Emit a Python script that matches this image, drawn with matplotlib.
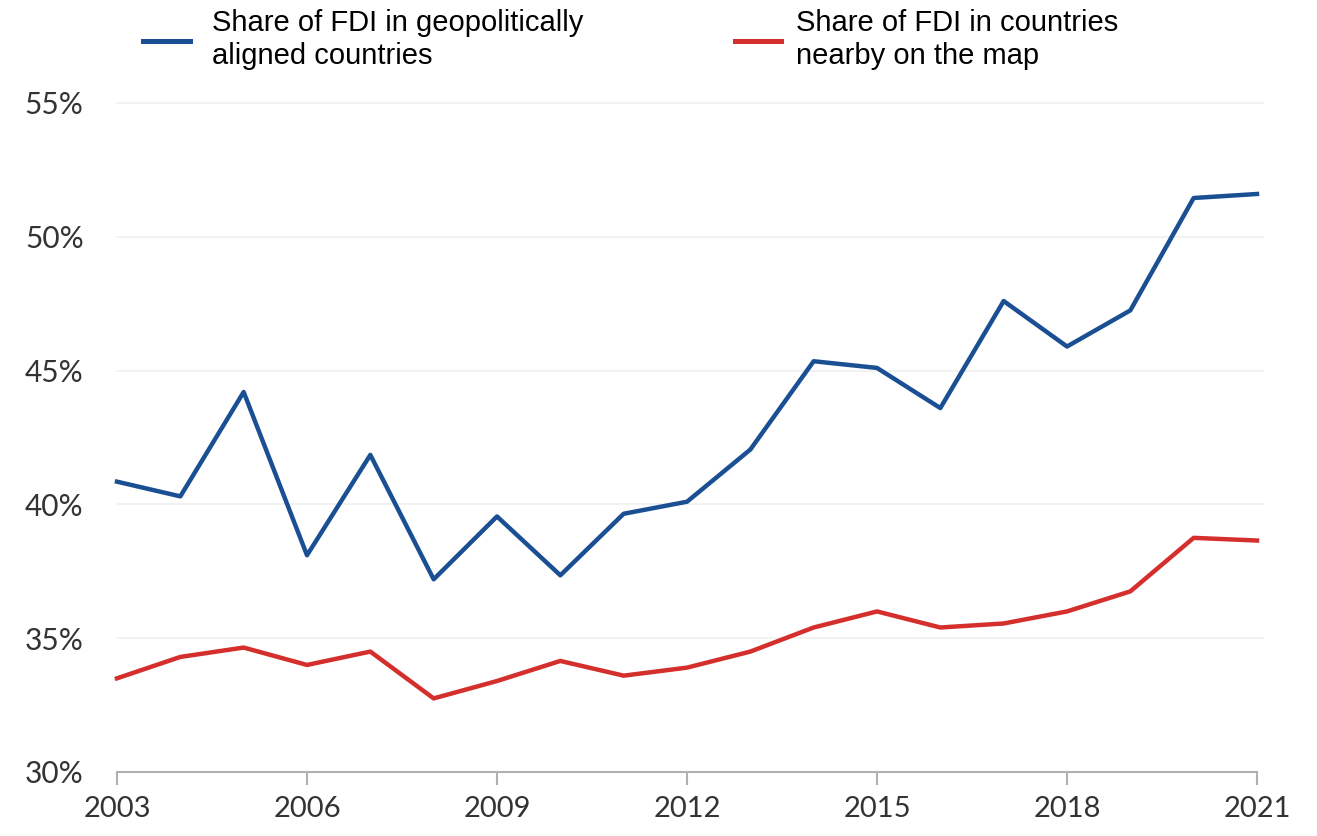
import matplotlib
matplotlib.use("Agg")
import matplotlib.pyplot as plt
from matplotlib.lines import Line2D

years = list(range(2003, 2022))
aligned = [40.85, 40.3, 44.2, 38.1, 41.85, 37.2, 39.55, 37.35, 39.65, 40.1,
           42.05, 45.35, 45.1, 43.6, 47.6, 45.9, 47.25, 51.45, 51.6]
nearby = [33.5, 34.3, 34.65, 34.0, 34.5, 32.75, 33.4, 34.15, 33.6, 33.9,
          34.5, 35.4, 36.0, 35.4, 35.55, 36.0, 36.75, 38.75, 38.65]

y_ticks = [30, 35, 40, 45, 50, 55]
x_ticks = [2003, 2006, 2009, 2012, 2015, 2018, 2021]
legend_labels = [["Share of FDI in geopolitically", "aligned countries"],
                 ["Share of FDI in countries", "nearby on the map"]]

blue = "#1b4f93"
red = "#d42f2c"
W, H = 1317, 836

fig = plt.figure(figsize=(W / 100, H / 100), dpi=100)
ax = fig.add_axes([117 / W, 1 - 772 / H, (1257 - 117) / W, (772 - 103) / H])

ax.plot(years, aligned, color=blue, lw=3.2, clip_on=False)
ax.plot(years, nearby, color=red, lw=3.2, clip_on=False)

ax.set_xlim(2003, 2021)
ax.set_ylim(30, 55)
ax.set_xticks(x_ticks)
ax.set_yticks(y_ticks)
ax.set_yticklabels([f"{v}%" for v in y_ticks])

for v in y_ticks[1:]:
    ax.axhline(v, xmin=0, xmax=1.005, color="#f0f0f0", lw=1.2, zorder=0, clip_on=False)

for s in ["top", "right", "left"]:
    ax.spines[s].set_visible(False)
ax.spines["bottom"].set_color("#b0b0b0")
ax.spines["bottom"].set_linewidth(1.5)

ax.tick_params(axis="x", length=9, width=1.5, color="#b0b0b0", pad=8,
               labelsize=21, labelcolor="#333333")
ax.tick_params(axis="y", length=0, pad=24, labelsize=21.5, labelcolor="#333333")
for lab in ax.get_xticklabels() + ax.get_yticklabels():
    lab.set_fontfamily("Lato")

# legend drawn in figure pixel space
legend_items = [(blue, 143, 190, 212), (red, 735, 781, 796)]
for (color, x0, x1, tx), lines in zip(legend_items, legend_labels):
    fig.add_artist(Line2D([x0 / W, x1 / W], [1 - 41 / H, 1 - 41 / H],
                          transform=fig.transFigure, color=color, lw=3.6))
    for i, text in enumerate(lines):
        fig.text(tx / W, 1 - (31 + 33 * i) / H, text, ha="left", va="baseline",
                 fontsize=21, family="Liberation Sans", color="black")

fig.savefig("out.png", dpi=100, facecolor="white")
